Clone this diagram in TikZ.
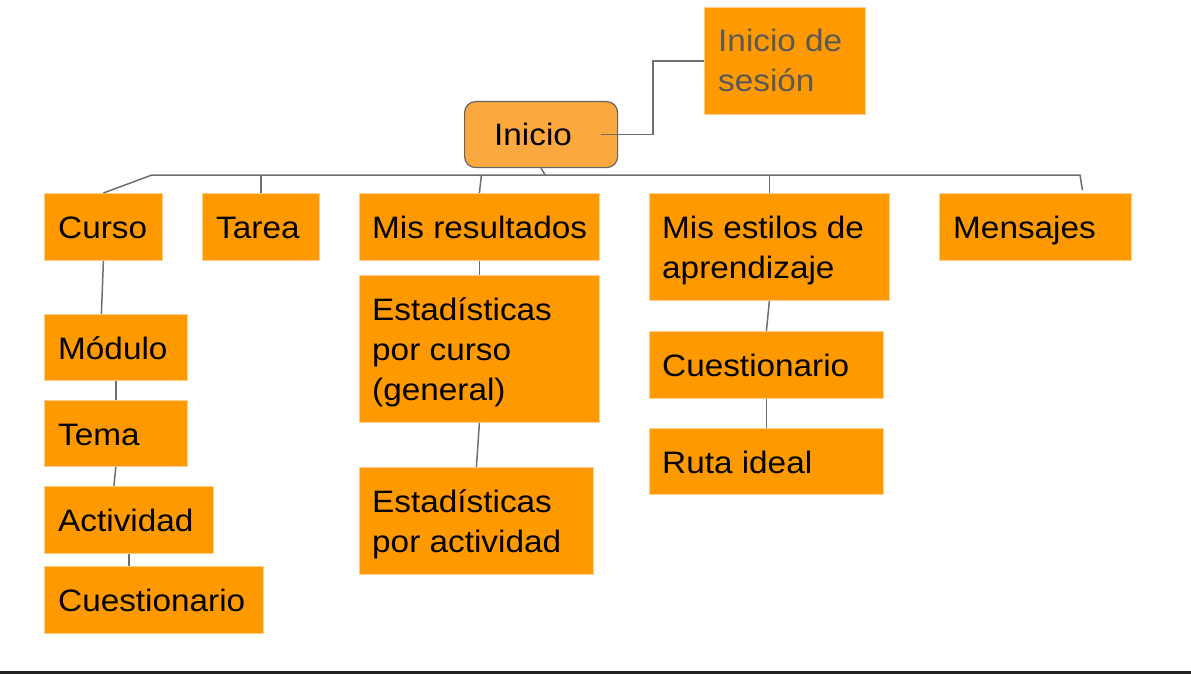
\documentclass[tikz,border=0pt]{standalone}
\usepackage{fontspec}
\usetikzlibrary{calc}
\setmainfont{Liberation Sans}[FakeStretch=1.075]
\definecolor{boxorange}{RGB}{255,153,0}
\definecolor{boxedge}{RGB}{255,205,140}
\definecolor{rootorange}{RGB}{251,168,62}
\definecolor{rootedge}{RGB}{100,100,100}
\definecolor{linkgray}{RGB}{110,110,110}
\definecolor{softtext}{RGB}{89,89,89}
\definecolor{barcol}{RGB}{34,34,34}
\tikzset{
  box/.style={draw=boxedge, line width=0.8pt, fill=boxorange, inner sep=0pt, anchor=north west},
  rootbox/.style={draw=rootedge, line width=1.2pt, fill=rootorange, rounded corners=11pt, inner sep=0pt, anchor=north west},
  txt/.style={inner sep=0pt, anchor=base west, align=left, font=\fontsize{31}{40}\selectfont},
  link/.style={draw=linkgray, line width=1.5pt}
}
\begin{document}
\begin{tikzpicture}[x=1pt, y=-1pt]
\useasboundingbox (0,0) rectangle (1191,674);
\fill[barcol] (0,671) rectangle (1191,674);
% boxes
\node[box, minimum width=161pt, minimum height=107pt] (sesion) at (704,7) {};
\node[rootbox, minimum width=153pt, minimum height=66pt] (inicio) at (464,101) {};
\node[box, minimum width=118pt, minimum height=67pt] (curso) at (44,193) {};
\node[box, minimum width=117pt, minimum height=67pt] (tarea) at (202,193) {};
\node[box, minimum width=240pt, minimum height=67pt] (result) at (359,193) {};
\node[box, minimum width=240pt, minimum height=107pt] (estilos) at (649,193) {};
\node[box, minimum width=192pt, minimum height=67pt] (mensajes) at (939,193) {};
\node[box, minimum width=143pt, minimum height=66pt] (modulo) at (44,314) {};
\node[box, minimum width=143pt, minimum height=66pt] (tema) at (44,400) {};
\node[box, minimum width=169pt, minimum height=67pt] (activ) at (44,486) {};
\node[box, minimum width=219pt, minimum height=67pt] (cuestA) at (44,566) {};
\node[box, minimum width=240pt, minimum height=147pt] (estgen) at (359,275) {};
\node[box, minimum width=234pt, minimum height=107pt] (estact) at (359,467) {};
\node[box, minimum width=234pt, minimum height=67pt] (cuestB) at (649,331) {};
\node[box, minimum width=234pt, minimum height=66pt] (ruta) at (649,428) {};
% texts (base anchor = baseline of the last line)
\node[txt, text=softtext] (sesion-t) at ([shift={(14,85)}]sesion.north west) {Inicio de\\sesión};
\node[txt] (inicio-t) at ([shift={(30,45)}]inicio.north west) {Inicio};
\node[txt] (curso-t) at ([shift={(14,45)}]curso.north west) {Curso};
\node[txt] (tarea-t) at ([shift={(14,45)}]tarea.north west) {Tarea};
\node[txt] (result-t) at ([shift={(13,45)}]result.north west) {Mis resultados};
\node[txt] (estilos-t) at ([shift={(13,85)}]estilos.north west) {Mis estilos de\\aprendizaje};
\node[txt] (mensajes-t) at ([shift={(14,45)}]mensajes.north west) {Mensajes};
\node[txt] (modulo-t) at ([shift={(14,45)}]modulo.north west) {Módulo};
\node[txt] (tema-t) at ([shift={(14,45)}]tema.north west) {Tema};
\node[txt] (activ-t) at ([shift={(14,45)}]activ.north west) {Actividad};
\node[txt] (cuestA-t) at ([shift={(14,45)}]cuestA.north west) {Cuestionario};
\node[txt] (estgen-t) at ([shift={(13,125)}]estgen.north west) {Estadísticas\\por curso\\(general)};
\node[txt] (estact-t) at ([shift={(13,85)}]estact.north west) {Estadísticas\\por actividad};
\node[txt] (cuestB-t) at ([shift={(13,45)}]cuestB.north west) {Cuestionario};
\node[txt] (ruta-t) at ([shift={(13,45)}]ruta.north west) {Ruta ideal};
% bus
\coordinate (busL) at (152,175);
\coordinate (busR) at (1080,175);
\coordinate (elbow) at ([xshift=35pt]inicio.east);
% connectors
\draw[link] ([xshift=-17pt]inicio.east) -| (elbow) |- (sesion.west);
\draw[link] (curso.north) -- (busL) -- (busR) -- ([xshift=47pt,yshift=3pt]mensajes.north);
\draw[link] (inicio.south) -- ([xshift=4pt]inicio.south |- busL);
\draw[link] (tarea.north) -- (tarea.north |- busL);
\draw[link] (result.north) -- ([xshift=2pt]result.north |- busL);
\draw[link] (estilos.north) -- (estilos.north |- busL);
\draw[link] (curso.south) -- ([xshift=-2pt]curso.south |- modulo.north);
\draw[link] (modulo.south) -- (tema.north);
\draw[link] (tema.south) -- ([xshift=-2pt]tema.south |- activ.north);
\draw[link] (activ.south) -- (activ.south |- cuestA.north);
\draw[link] (result.south) -- (estgen.north);
\draw[link] (estgen.south) -- (estact.north);
\draw[link] (estilos.south) -- (cuestB.north);
\draw[link] (cuestB.south) -- (ruta.north);
\end{tikzpicture}
\end{document}
